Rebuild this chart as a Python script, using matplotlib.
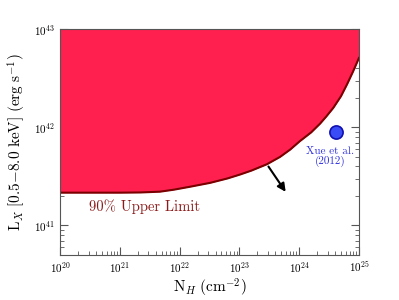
import math
import matplotlib
matplotlib.use("Agg")
import matplotlib.pyplot as plt
from matplotlib.ticker import FuncFormatter, LogLocator

plt.rcParams["mathtext.fontset"] = "cm"
plt.rcParams["axes.formatter.use_mathtext"] = True

# upper-limit curve (log10 values)
nh_log = [20.0, 21.0, 21.34, 21.67, 21.9, 22.17, 22.51, 22.8, 23.01, 23.2, 23.46, 23.68,
          23.85, 24.01, 24.2, 24.35, 24.45, 24.57, 24.7, 24.80, 24.9, 25.0]
lx_log = [41.335, 41.335, 41.337, 41.345, 41.365, 41.395, 41.435, 41.48, 41.52, 41.56, 41.625, 41.70,
          41.775, 41.86, 41.95, 42.04, 42.11, 42.20, 42.32, 42.44, 42.57, 42.71]
nh = [10 ** v for v in nh_log]
lx = [10 ** v for v in lx_log]

xue_nh = [4.2e24]
xue_lx = [9.1e41]

arrow_start = (10 ** 23.46, 10 ** 41.625)
arrow_end = (10 ** 23.80, 10 ** 41.32)

fig = plt.figure(figsize=(3.99, 3.0), dpi=100)
ax = fig.add_axes([0.1504, 0.15, 0.7493, 0.7517])

ax.fill_between(nh, lx, 1e43, color="#ff2050", lw=0, zorder=3)
ax.plot(nh, lx, color="#7a0000", lw=1.5, zorder=4)

ax.scatter(xue_nh, xue_lx, s=90, color="#3a4cf5", edgecolor="#1010b0", lw=1.2, zorder=5)
ax.text(10 ** 24.52, 10 ** 41.70, "Xue et al.\n(2012)", color="#3030e0", fontsize=8,
        ha="center", va="center", linespacing=0.95, family="cmr10")

ax.annotate("", xy=arrow_end, xytext=arrow_start,
            arrowprops=dict(arrowstyle="-|>", color="black", lw=1.5, mutation_scale=12), zorder=6)

ax.text(10 ** 21.42, 10 ** 41.19, "90% Upper Limit", color="#8b1a1a", fontsize=10.5,
        ha="center", va="center", family="cmr10")

ax.set_xscale("log")
ax.set_yscale("log")
ax.set_xlim(1e20, 1e25)
ax.set_ylim(5e40, 1e43)

fmt = FuncFormatter(lambda v, p: r"$\mathsf{10^{%d}}$" % round(math.log10(v)))
ax.xaxis.set_major_formatter(fmt)
ax.yaxis.set_major_formatter(fmt)
ax.xaxis.set_minor_locator(LogLocator(base=10, subs=range(2, 10), numticks=20))
ax.yaxis.set_minor_locator(LogLocator(base=10, subs=range(2, 10), numticks=20))
ax.yaxis.set_minor_formatter(FuncFormatter(lambda v, p: ""))
ax.tick_params(which="both", direction="in", top=False, right=True, labelsize=8, color="#555555")
ax.tick_params(which="major", length=6)
ax.tick_params(which="minor", length=3)
for s in ax.spines.values():
    s.set_color("#555555")
    s.set_zorder(7)

ax.set_xlabel(r"$\mathrm{N}_H\ (\mathrm{cm}^{-2})$", fontsize=11, labelpad=1)
ax.set_ylabel(r"$\mathrm{L}_X\ [0.5\mathrm{-}8.0\ \mathrm{keV}]\ (\mathrm{erg\ s}^{-1})$",
              fontsize=11, labelpad=4)

fig.savefig("out.png", dpi=100)
